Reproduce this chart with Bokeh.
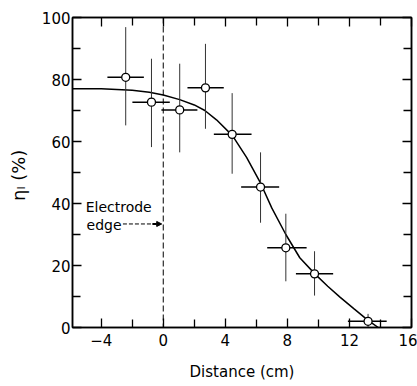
from bokeh.plotting import figure
from bokeh.models import (Range1d, FixedTicker, LinearAxis, Span, Label, ColumnDataSource,
                          Arrow, NormalHead)
from bokeh.embed import file_html
from bokeh.resources import INLINE

# ---- data ----
dist = [-2.42, -0.76, 1.06, 2.72, 4.44, 6.27, 7.90, 9.75, 13.2]
eta = [80.7, 72.7, 70.2, 77.3, 62.3, 45.3, 25.7, 17.3, 2.0]
dist_lo = [-3.6, -1.99, -0.12, 1.56, 3.26, 5.02, 6.70, 8.55, 11.9]
dist_hi = [-1.25, 0.42, 2.2, 3.9, 5.69, 7.47, 9.24, 10.95, 14.4]
eta_lo = [65.2, 58.2, 56.5, 64.1, 49.6, 33.8, 14.9, 10.3, 0.0]
eta_hi = [96.9, 86.7, 85.1, 91.5, 75.6, 56.5, 36.7, 24.6, 4.4]

curve_x = [-5.85, -4.0, -2.0, -0.9, 0.0, 1.06, 2.0, 2.68, 3.43, 4.46, 5.37, 6.23,
           7.0, 7.9, 8.8, 9.77, 10.6, 11.39, 12.3, 13.2, 13.86]
curve_y = [77.0, 77.0, 76.5, 75.9, 75.0, 73.5, 71.8, 70.0, 67.0, 61.9, 54.9, 47.0,
           38.5, 30.0, 22.5, 17.3, 13.3, 9.8, 6.0, 2.3, 0.0]

x_major = [-4, 0, 4, 8, 12, 16]
x_minor = [-2, 2, 6, 10, 14]
y_major = [0, 20, 40, 60, 80, 100]
y_minor = [10, 30, 50, 70, 90]

electrode_edge = 0.0
edge_text = ["Electrode", "edge"]

FONT = "DejaVu Sans"

p = figure(frame_width=339, frame_height=310, output_backend="svg", toolbar_location=None,
           x_range=Range1d(-5.85, 16), y_range=Range1d(0, 100),
           min_border_left=72, min_border_right=6, min_border_top=17, min_border_bottom=59,
           background_fill_color="white", border_fill_color="white")
p.grid.visible = False
p.outline_line_color = "black"
p.outline_line_width = 1.5


def style_axis(ax, ticks, minor, labels=True):
    ax.ticker = FixedTicker(ticks=ticks, minor_ticks=minor)
    ax.axis_line_color = "black"
    ax.axis_line_width = 1.5
    ax.major_tick_in = 9
    ax.major_tick_out = 0
    ax.minor_tick_in = 8
    ax.minor_tick_out = 0
    ax.major_tick_line_width = 1.3
    ax.minor_tick_line_width = 1.3
    ax.major_tick_line_color = "black"
    ax.minor_tick_line_color = "black"
    if labels:
        ax.major_label_text_font = FONT
        ax.major_label_text_font_size = "15px"
        ax.major_label_text_color = "black"
    else:
        ax.major_label_overrides = {t: "" for t in ticks}
        ax.major_label_text_font_size = "0px"
        ax.major_label_standoff = 0


style_axis(p.xaxis[0], x_major, x_minor)
style_axis(p.yaxis[0], y_major, y_minor)
p.xaxis[0].major_label_standoff = 6
p.yaxis[0].major_label_standoff = 2
p.xaxis[0].axis_label = "Distance (cm)"
p.xaxis[0].axis_label_text_font = FONT
p.xaxis[0].axis_label_text_font_size = "15px"
p.xaxis[0].axis_label_text_font_style = "normal"
p.xaxis[0].axis_label_text_color = "black"
p.xaxis[0].axis_label_standoff = 14

p.yaxis[0].axis_label = "η\u2097  (%)"
p.yaxis[0].axis_label_text_font = FONT
p.yaxis[0].axis_label_text_font_size = "18px"
p.yaxis[0].axis_label_text_font_style = "normal"
p.yaxis[0].axis_label_text_color = "black"
p.yaxis[0].axis_label_standoff = 10

top = LinearAxis()
style_axis(top, x_major, x_minor, labels=False)
p.add_layout(top, "above")
right = LinearAxis()
style_axis(right, y_major, y_minor, labels=False)
p.add_layout(right, "right")

# dashed electrode edge
p.add_layout(Span(location=electrode_edge, dimension="height", line_color="black",
                  line_width=1, line_dash="6 3"))

# fitted curve
p.line(curve_x, curve_y, line_color="black", line_width=1.5)

# error bars
src = ColumnDataSource(dict(x=dist, y=eta, xl=dist_lo, xh=dist_hi, yl=eta_lo, yh=eta_hi))
p.segment(x0="x", y0="yl", x1="x", y1="yh", source=src, line_color="#333333", line_width=1)
p.segment(x0="xl", y0="y", x1="xh", y1="y", source=src, line_color="black", line_width=1.5)
p.scatter(x="x", y="y", source=src, marker="circle", size=8, fill_color="white",
          line_color="black", line_width=1.3)

# Electrode edge annotation
p.add_layout(Label(x=-5.0, y=39.0, text=edge_text[0], text_font=FONT, text_color="black",
                   text_font_size="14px", text_baseline="middle", text_align="left"))
p.add_layout(Label(x=-4.94, y=33.2, text=edge_text[1], text_font=FONT, text_color="black",
                   text_font_size="14px", text_baseline="middle", text_align="left"))
p.segment(x0=[-2.6], y0=[33.4], x1=[-0.6], y1=[33.4], line_color="black", line_width=1,
          line_dash="4 2")
p.add_layout(Arrow(x_start=-0.7, y_start=33.4, x_end=electrode_edge - 0.1, y_end=33.4,
                   line_width=2, line_color="black",
                   end=NormalHead(size=5, fill_color="black", line_color="black")))

open("out.html", "w").write(file_html(p, INLINE))
